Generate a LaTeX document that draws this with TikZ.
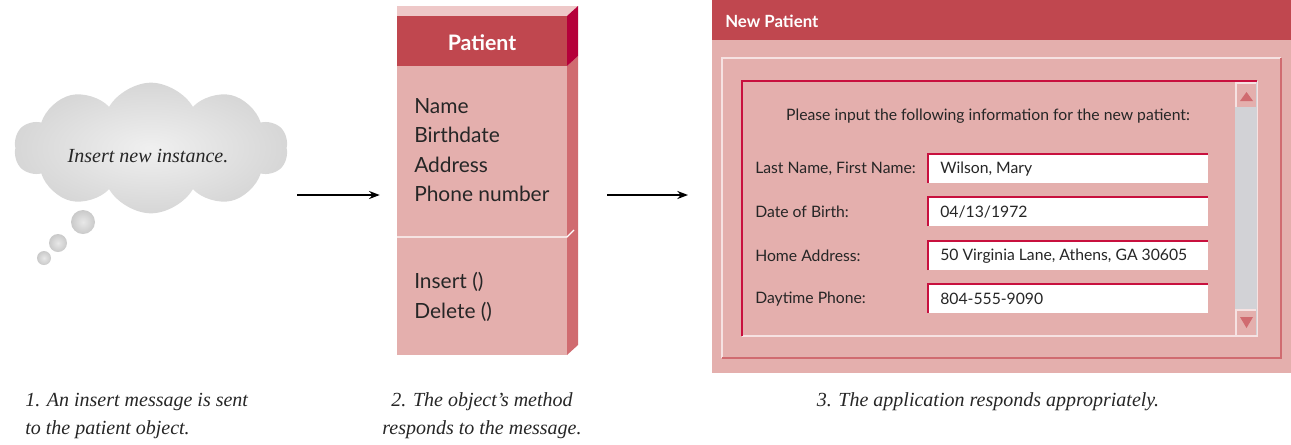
\documentclass[tikz,border=0pt]{standalone}
\usepackage{fontspec}
\setmainfont{Liberation Serif}
\setsansfont{Lato}
\usetikzlibrary{arrows.meta, positioning, shapes.symbols, calc}

\definecolor{hdred}{HTML}{C0474F}
\definecolor{bodypink}{HTML}{E4AFAD}
\definecolor{sidered}{HTML}{D06B70}
\definecolor{sidedark}{HTML}{B5003A}
\definecolor{toppink}{HTML}{EEC8C8}
\definecolor{crimson}{HTML}{C8103E}
\definecolor{lightedge}{HTML}{F6E2E2}
\definecolor{scrollgray}{HTML}{D2D2D6}
\definecolor{txtgray}{HTML}{262626}

\begin{document}
\begin{tikzpicture}[x=0.75pt, y=-0.75pt,
    capt/.style={font=\itshape\fontsize{15}{21}\selectfont, text=txtgray, inner sep=0pt},
    attr/.style={font=\sffamily\fontsize{15.7}{22}\selectfont, text=txtgray, anchor=west,
                 align=left, inner sep=0pt},
    form/.style={font=\sffamily\fontsize{11.8}{13}\selectfont, text=txtgray, anchor=west, inner sep=0pt},
    title/.style={font=\sffamily\bfseries, text=white, inner sep=0pt},
    puff/.style={circle, inner sep=0pt, shading=radial, inner color=gray!18, outer color=gray!42},
    >={Stealth[length=8pt, width=6pt]}
  ]
  \useasboundingbox (0,0) rectangle (1291,444);

  % Thought cloud
  \node[cloud, cloud puffs=10, cloud puff arc=120, aspect=2.2, minimum width=205pt,
        minimum height=98pt, shading=radial, inner color=gray!12, outer color=gray!32]
    (cloud) at (151,148) {};
  \node[font=\itshape\fontsize{15}{17}\selectfont, text=txtgray] (thought) at (148,156) {Insert new instance.};
  \node[puff, minimum size=18pt] (b1) at (83,222) {};
  \node[puff, minimum size=13.5pt] (b2) at (58,243) {};
  \node[puff, minimum size=10.5pt] (b3) at (44,258) {};

  % Class box
  \fill[toppink] (397,6) -- (578,6) -- (567,16) -- (397,16) -- cycle;
  \node[rectangle, fill=bodypink, minimum width=170*0.75pt, minimum height=339*0.75pt,
        inner sep=0pt] (cls) at (482,185.5) {};
  \fill[sidered] (567,66) -- (578,56) -- (578,345) -- (567,355) -- cycle;
  \fill[sidedark] (567,16) -- (578,6) -- (578,56) -- (567,66) -- cycle;
  \node[rectangle, fill=hdred, minimum width=170*0.75pt, minimum height=50*0.75pt,
        anchor=north, inner sep=0pt] (clshead) at (cls.north) {};
  \node[title, font=\sffamily\bfseries\fontsize{16}{18}\selectfont] (clsname) at (482,43) {Patient};
  \draw[white, line width=1pt] (397,237) -- (567,237) -- (574,230);
  \node[attr] (attrs) at (414,150) {Name\\Birthdate\\Address\\Phone number};
  \node[attr] (meths) at (414,297) {Insert ()\\Delete ()};

  % Arrows
  \coordinate (a1s) at (297,195);
  \coordinate (a2s) at (607,195);
  \draw[->, line width=1.5pt] (a1s) -- ([xshift=-12.75pt]cls.west |- a1s);

  % Application window
  \node[rectangle, fill=bodypink, minimum width=579*0.75pt, minimum height=373*0.75pt,
        anchor=north west, inner sep=0pt] (win) at (712,0) {};
  \draw[->, line width=1.5pt] (a2s) -- ([xshift=-18pt]win.west |- a2s);
  \fill[hdred] (712,0) rectangle (1291,40);
  \node[title, font=\sffamily\bfseries\fontsize{12.6}{14}\selectfont, anchor=west] (wintitle) at (725,21) {New Patient};
  % group frame
  \draw[lightedge, line width=1.5pt] (722,358) -- (722,58) -- (1281,58);
  \draw[sidered, line width=1.5pt] (1281,58) -- (1281,358) -- (722,358);
  % inner panel
  \draw[lightedge, line width=1.2pt] (1257,81) -- (1257,336) -- (742,336);
  \draw[crimson, line width=1.2pt] (742,336) -- (742,81) -- (1257,81);
  \fill[scrollgray] (1235,82) rectangle (1256.5,335);
  \fill[bodypink] (1236,83) rectangle (1256,107);
  \draw[lightedge, line width=0.8pt] (1236,107) -- (1236,83) -- (1256,83);
  \fill[sidered] (1240,101) -- (1253,101) -- (1246.5,92) -- cycle;
  \fill[bodypink] (1236,310) rectangle (1256,335);
  \draw[lightedge, line width=0.8pt] (1236,335) -- (1236,310) -- (1256,310);
  \fill[sidered] (1240,317) -- (1253,317) -- (1246.5,328) -- cycle;
  \node[form, anchor=center] (prompt) at (988,116) {Please input the following information for the new patient:};

  % Form rows
  \foreach \i/\y/\lab/\val in {1/169/{Last Name, First Name:}/{Wilson, Mary},
                               2/212/{Date of Birth:}/{04/13/1972},
                               3/256/{Home Address:}/{50 Virginia Lane, Athens, GA 30605},
                               4/299/{Daytime Phone:}/{804-555-9090}} {
    \node[form] (lab\i) at (755,\y) {\lab};
    \fill[white] (928,\y-15) rectangle (1208,\y+14);
    \draw[crimson, line width=1.2pt] (928,\y+14) -- (928,\y-15) -- (1208,\y-15);
    \node[form] (val\i) at (940,\y) {\val};
  }

  % Captions
  \node[capt, anchor=west, align=left] (cap1) at (25,416) {1. An insert message is sent\\to the patient object.};
  \node[capt, align=center] (cap2) at (482,416) {2. The object's method\\responds to the message.};
  \node[capt] (cap3) at (988,402) {3. The application responds appropriately.};
\end{tikzpicture}
\end{document}
